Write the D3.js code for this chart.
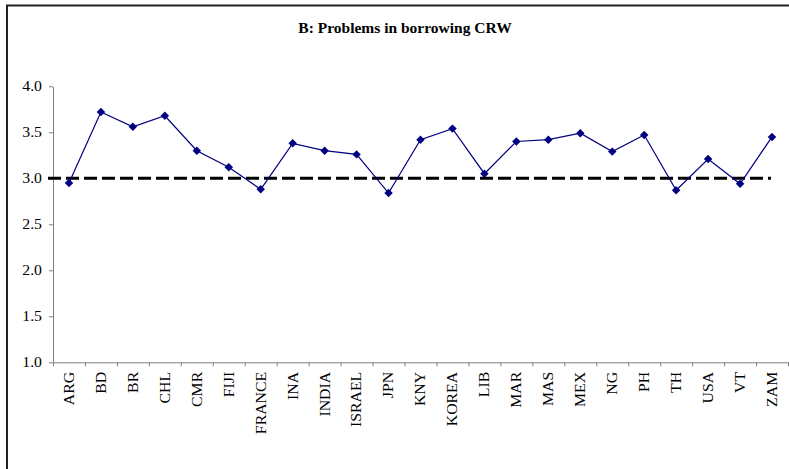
<!DOCTYPE html>
<html lang="en">
    <head>
        <meta charset="utf-8">
        <title>B: Problems in borrowing CRW</title>
        <script type="text/javascript" src="https://cdn.jsdelivr.net/npm/d3@7"></script>
        <style type="text/css">
            body { margin: 0; background: #fff; }
            svg { display: block; font-family: "Liberation Serif", "Times New Roman", serif; }
        </style>
    </head>
    <body>
        <script type="text/javascript">

            //Width and height
            var w = 789;
            var h = 469;

            //Data
            var countries = ["ARG", "BD", "BR", "CHL", "CMR", "FIJI", "FRANCE", "INA", "INDIA", "ISRAEL",
                             "JPN", "KNY", "KOREA", "LIB", "MAR", "MAS", "MEX", "NG", "PH", "TH",
                             "USA", "VT", "ZAM"];
            var scores = [2.95, 3.72, 3.56, 3.68, 3.30, 3.12, 2.88, 3.38, 3.30, 3.26,
                          2.84, 3.42, 3.54, 3.05, 3.40, 3.42, 3.49, 3.29, 3.47, 2.87,
                          3.21, 2.94, 3.45];
            var refLevel = 3.0;
            var yTicks = [1.0, 1.5, 2.0, 2.5, 3.0, 3.5, 4.0];

            var plot = { left: 53, right: 788, top: 86.3, bottom: 362.3 };
            var stretch = 1.13; // the labels in the picture are set a bit wide

            var x = d3.scaleBand()
                      .domain(countries)
                      .range([plot.left, plot.right]);

            var xEdges = d3.scaleLinear()
                           .domain([0, countries.length])
                           .range([plot.left, plot.right]);

            var y = d3.scaleLinear()
                      .domain([1, 4])
                      .range([plot.bottom, plot.top]);

            var svg = d3.select("body")
                        .append("svg")
                        .attr("width", w)
                        .attr("height", h);

            //Outer frame (only top and left edges show in the picture)
            svg.append("path")
               .attr("d", "M7,469 L7,5.5 L789,5.5")
               .attr("fill", "none")
               .attr("stroke", "#222")
               .attr("stroke-width", 2);

            svg.append("text")
               .text("B: Problems in borrowing CRW")
               .attr("x", 405)
               .attr("y", 33)
               .attr("text-anchor", "middle")
               .attr("font-weight", "bold")
               .attr("font-size", "15.5px");

            //Y axis
            var yAxis = svg.append("g")
                           .attr("transform", "translate(" + plot.left + ",0)")
                           .call(d3.axisLeft(y)
                                   .tickValues(yTicks)
                                   .tickFormat(d3.format(".1f"))
                                   .tickSizeInner(4)
                                   .tickSizeOuter(0)
                                   .tickPadding(7));
            yAxis.selectAll("text")
                 .attr("x", -11 / stretch)
                 .attr("transform", "scale(" + stretch + ",1)");

            //X axis: tick marks at category edges, labels at centres
            var xTicks = svg.append("g")
                            .attr("transform", "translate(0," + plot.bottom + ")")
                            .call(d3.axisBottom(xEdges)
                                    .tickValues(d3.range(countries.length + 1))
                                    .tickFormat("")
                                    .tickSizeInner(4)
                                    .tickSizeOuter(0));

            var xLabels = svg.append("g")
                             .attr("transform", "translate(0," + plot.bottom + ")")
                             .call(d3.axisBottom(x).tickSize(0).tickPadding(0));
            xLabels.select(".domain").remove();
            xLabels.selectAll("text")
                   .attr("transform", "rotate(-90) scale(" + stretch + ",1)")
                   .attr("x", -9.5 / stretch)
                   .attr("y", 0)
                   .attr("dy", "0.35em")
                   .attr("text-anchor", "end");

            svg.selectAll(".domain, .tick line")
               .attr("stroke", "#808080");
            svg.selectAll(".tick text")
               .attr("fill", "#000")
               .attr("font-family", "Liberation Serif, Times New Roman, serif")
               .attr("font-size", "14px");

            //Reference level
            svg.append("line")
               .attr("x1", 48)
               .attr("x2", 771)
               .attr("y1", y(refLevel))
               .attr("y2", y(refLevel))
               .attr("stroke", "#000")
               .attr("stroke-width", 3)
               .attr("stroke-dasharray", "13,5");

            //Series line
            var line = d3.line()
                         .x(function(d, i) { return x(countries[i]) + x.bandwidth() / 2; })
                         .y(function(d) { return y(d); });

            svg.append("path")
               .datum(scores)
               .attr("d", line)
               .attr("fill", "none")
               .attr("stroke", "#000080")
               .attr("stroke-width", 1.2);

            svg.selectAll(".marker")
               .data(scores)
               .enter()
               .append("path")
               .attr("class", "marker")
               .attr("d", d3.symbol(d3.symbolSquare, 36))
               .attr("transform", function(d, i) {
                   return "translate(" + (x(countries[i]) + x.bandwidth() / 2) + "," + y(d) + ") rotate(45)";
               })
               .attr("fill", "#000080");

        </script>
    </body>
</html>
